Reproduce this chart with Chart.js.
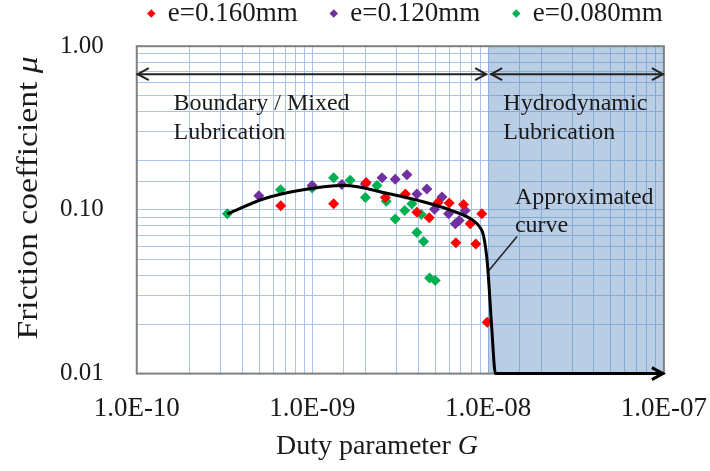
<!DOCTYPE html>
<html>
<head>
  <title>Friction coefficient vs duty parameter</title>
  <script src="https://cdn.jsdelivr.net/npm/chart.js"></script>
  <style>
    body { margin: 0; background: #fff; }
    #wrap { width: 710px; height: 471px; }
  </style>
</head>
<body>
  <div id="wrap"><canvas id="chart"></canvas></div>

  <script>
    const redX = [6.6e-10, 1.32e-9, 2.02e-9, 2.6e-9, 3.38e-9, 3.93e-9, 4.62e-9, 5.18e-9, 6.0e-9, 7.24e-9, 7.9e-9, 9.2e-9, 6.55e-9, 8.5e-9, 9.87e-9];
    const redY = [0.106, 0.109, 0.147, 0.119, 0.125, 0.0967, 0.0894, 0.111, 0.110, 0.108, 0.0822, 0.0946, 0.063, 0.062, 0.0206];

    const purpleX = [4.95e-10, 9.96e-10, 1.47e-9, 2.0e-9, 2.49e-9, 2.96e-9, 3.45e-9, 3.93e-9, 4.48e-9, 4.95e-9, 5.46e-9, 5.95e-9, 6.5e-9, 6.84e-9, 7.4e-9];
    const purpleY = [0.122, 0.141, 0.143, 0.144, 0.157, 0.154, 0.164, 0.125, 0.134, 0.101, 0.120, 0.0946, 0.0822, 0.0861, 0.099];

    const greenX = [3.28e-10, 6.58e-10, 9.96e-10, 1.32e-9, 1.64e-9, 2.33e-9, 2.0e-9, 2.63e-9, 3.68e-9, 3.35e-9, 2.96e-9, 4.16e-9, 3.93e-9, 4.29e-9, 4.64e-9, 5.0e-9];
    const greenY = [0.0946, 0.133, 0.136, 0.157, 0.152, 0.141, 0.119, 0.113, 0.109, 0.099, 0.088, 0.0936, 0.0728, 0.0641, 0.0384, 0.0371];

    // approximated curve
    const curveX = [3.28e-10, 5.3e-10, 8.2e-10, 1.51e-9, 2.77e-9, 4.02e-9, 6.22e-9, 8.25e-9, 9.0e-9, 9.4e-9, 9.9e-9, 1.05e-8, 1.1e-8, 1e-7];
    const curveY = [0.0946, 0.117, 0.131, 0.141, 0.125, 0.114, 0.099, 0.086, 0.078, 0.070, 0.047, 0.0184, 0.01, 0.01];

    const seriesNames = ['e=0.160mm', 'e=0.120mm', 'e=0.080mm'];
    const seriesColors = ['#ff0000', '#7030a0', '#00b050'];

    // annotations (data coordinates)
    const regionBounds = [1e-10, 1e-8, 1e-7];
    const regionArrowY = 0.675;
    const boundaryText = ['Boundary / Mixed', 'Lubrication'];
    const hydroText = ['Hydrodynamic', 'Lubrication'];
    const regionTextY = [0.443, 0.295];
    const boundaryTextX = 1.62e-10;
    const hydroTextX = 1.22e-8;
    const curveText = ['Approximated', 'curve'];
    const curveTextX = 1.42e-8;
    const curveTextY = [0.119, 0.0802];
    const leaderFrom = [9.87e-9, 0.0415];
    const leaderTo = [1.46e-8, 0.0688];

    const serif = "'Liberation Serif', 'Times New Roman', serif";

    function pts(xs, ys) {
      return xs.map((x, i) => ({ x: x, y: ys[i] }));
    }

    function isDecade(v) {
      const l = Math.log10(v);
      return Math.abs(l - Math.round(l)) < 1e-6;
    }

    // 1e-9 -> "1.0E-09", the way the spreadsheet wrote it
    function sciLabel(v) {
      const e = Math.round(Math.log10(v));
      return '1.0E' + (e < 0 ? '-' : '+') + String(Math.abs(e)).padStart(2, '0');
    }

    function chevron(ctx, x, y, dir) {
      ctx.beginPath();
      ctx.moveTo(x - dir * 11, y - 6);
      ctx.lineTo(x, y);
      ctx.lineTo(x - dir * 11, y + 6);
      ctx.stroke();
    }

    function doubleArrow(ctx, x1, x2, y) {
      ctx.beginPath();
      ctx.moveTo(x1, y);
      ctx.lineTo(x2, y);
      ctx.stroke();
      chevron(ctx, x1 + 1, y, -1);
      chevron(ctx, x2 - 1, y, 1);
    }

    // draw a run of text pieces, some italic, centred on (x, y)
    function mixedText(ctx, parts, x, y, size) {
      const fonts = parts.map(p => (p.italic ? 'italic ' : '') + size + 'px ' + serif);
      let total = 0;
      parts.forEach((p, i) => { ctx.font = fonts[i]; total += ctx.measureText(p.text).width; });
      let cx = x - total / 2;
      ctx.textAlign = 'left';
      ctx.textBaseline = 'middle';
      parts.forEach((p, i) => {
        ctx.font = fonts[i];
        ctx.fillText(p.text, cx, y);
        cx += ctx.measureText(p.text).width;
      });
    }

    const decor = {
      id: 'decor',
      afterLayout(chart) {
        // legend sits right of centre in the original
        chart.legend.left += 34;
        chart.legend.right += 34;
      },
      beforeDatasetsDraw(chart) {
        const { ctx, chartArea: a, scales: { x, y } } = chart;
        ctx.save();
        const xs = x.getPixelForValue(regionBounds[1]);
        ctx.fillStyle = 'rgba(79,129,189,0.4)';
        ctx.fillRect(xs, a.top, a.right - xs, a.bottom - a.top);

        ctx.strokeStyle = '#808080';
        ctx.lineWidth = 2;
        ctx.strokeRect(a.left, a.top, a.right - a.left, a.bottom - a.top);

        ctx.strokeStyle = '#222';
        ctx.lineWidth = 2;
        const ay = y.getPixelForValue(regionArrowY);
        doubleArrow(ctx, x.getPixelForValue(regionBounds[0]), x.getPixelForValue(regionBounds[1]) - 1, ay);
        doubleArrow(ctx, x.getPixelForValue(regionBounds[1]) + 2, x.getPixelForValue(regionBounds[2]), ay);

        ctx.fillStyle = '#1a1a1a';
        ctx.font = '24px ' + serif;
        ctx.textAlign = 'left';
        ctx.textBaseline = 'middle';
        boundaryText.forEach((t, i) => ctx.fillText(t, x.getPixelForValue(boundaryTextX), y.getPixelForValue(regionTextY[i])));
        hydroText.forEach((t, i) => ctx.fillText(t, x.getPixelForValue(hydroTextX), y.getPixelForValue(regionTextY[i])));
        curveText.forEach((t, i) => ctx.fillText(t, x.getPixelForValue(curveTextX), y.getPixelForValue(curveTextY[i])));

        ctx.lineWidth = 1.5;
        ctx.beginPath();
        ctx.moveTo(x.getPixelForValue(leaderFrom[0]), y.getPixelForValue(leaderFrom[1]));
        ctx.lineTo(x.getPixelForValue(leaderTo[0]), y.getPixelForValue(leaderTo[1]));
        ctx.stroke();
        ctx.restore();
      },
      afterDatasetsDraw(chart) {
        const { ctx, scales: { x, y } } = chart;
        ctx.save();
        ctx.strokeStyle = '#000';
        ctx.lineWidth = 3;
        const n = curveX.length - 1;
        chevron(ctx, x.getPixelForValue(curveX[n]) - 1, y.getPixelForValue(curveY[n]), 1);
        ctx.restore();
      },
      afterDraw(chart) {
        const { ctx } = chart;
        ctx.save();
        ctx.fillStyle = '#1a1a1a';
        mixedText(ctx, [{ text: 'Duty parameter ' }, { text: 'G', italic: true }], 377, 447, 28);
        ctx.translate(29, 198);
        ctx.rotate(-Math.PI / 2);
        ctx.scale(1.12, 1);
        mixedText(ctx, [{ text: 'Friction coefficient ' }, { text: 'μ', italic: true }], 0, 0, 30);
        ctx.restore();
      }
    };

    const gridColor = '#a9c4ea';
    const noTick = 'rgba(0,0,0,0)';

    new Chart(document.getElementById('chart'), {
      type: 'scatter',
      data: {
        datasets: [
          {
            label: 'curve',
            type: 'line',
            data: pts(curveX, curveY),
            borderColor: '#000',
            borderWidth: 3,
            pointRadius: 0,
            cubicInterpolationMode: 'monotone',
            clip: false,
            order: 0
          },
          { label: seriesNames[0], data: pts(redX, redY), backgroundColor: seriesColors[0], order: 1 },
          { label: seriesNames[1], data: pts(purpleX, purpleY), backgroundColor: seriesColors[1], order: 2 },
          { label: seriesNames[2], data: pts(greenX, greenY), backgroundColor: seriesColors[2], order: 3 }
        ]
      },
      options: {
        responsive: true,
        maintainAspectRatio: false,
        animation: false,
        elements: {
          point: { pointStyle: 'rectRot', radius: 5.5, borderWidth: 0, hoverRadius: 5.5 }
        },
        layout: { padding: { top: -33, left: 57, right: 24, bottom: 43 } },
        plugins: {
          tooltip: { enabled: false },
          title: { display: true, text: ' ', weight: 500, font: { size: 1 }, padding: { top: 0, bottom: 8 } },
          legend: {
            labels: {
              filter: item => item.text !== 'curve',
              usePointStyle: true,
              pointStyle: 'rectRot',
              boxWidth: 6,
              boxHeight: 6,
              padding: 33,
              color: '#1a1a1a',
              font: { family: serif, size: 27 }
            }
          }
        },
        scales: {
          x: {
            type: 'logarithmic',
            min: 1e-10,
            max: 1e-7,
            border: { display: false },
            grid: { color: gridColor, drawTicks: true, tickLength: 16, tickColor: noTick },
            ticks: {
              autoSkip: false,
              maxRotation: 0,
              padding: 3,
              color: '#1a1a1a',
              font: { family: serif, size: 27 },
              callback: v => isDecade(v) ? sciLabel(v) : ''
            }
          },
          y: {
            type: 'logarithmic',
            min: 0.01,
            max: 1,
            border: { display: false },
            grid: { color: gridColor, drawTicks: true, tickLength: 30, tickColor: noTick },
            ticks: {
              autoSkip: false,
              padding: 3,
              color: '#1a1a1a',
              font: { family: serif, size: 25 },
              callback: v => isDecade(v) ? v.toFixed(2) : ''
            }
          }
        }
      },
      plugins: [decor]
    });
  </script>
</body>
</html>
